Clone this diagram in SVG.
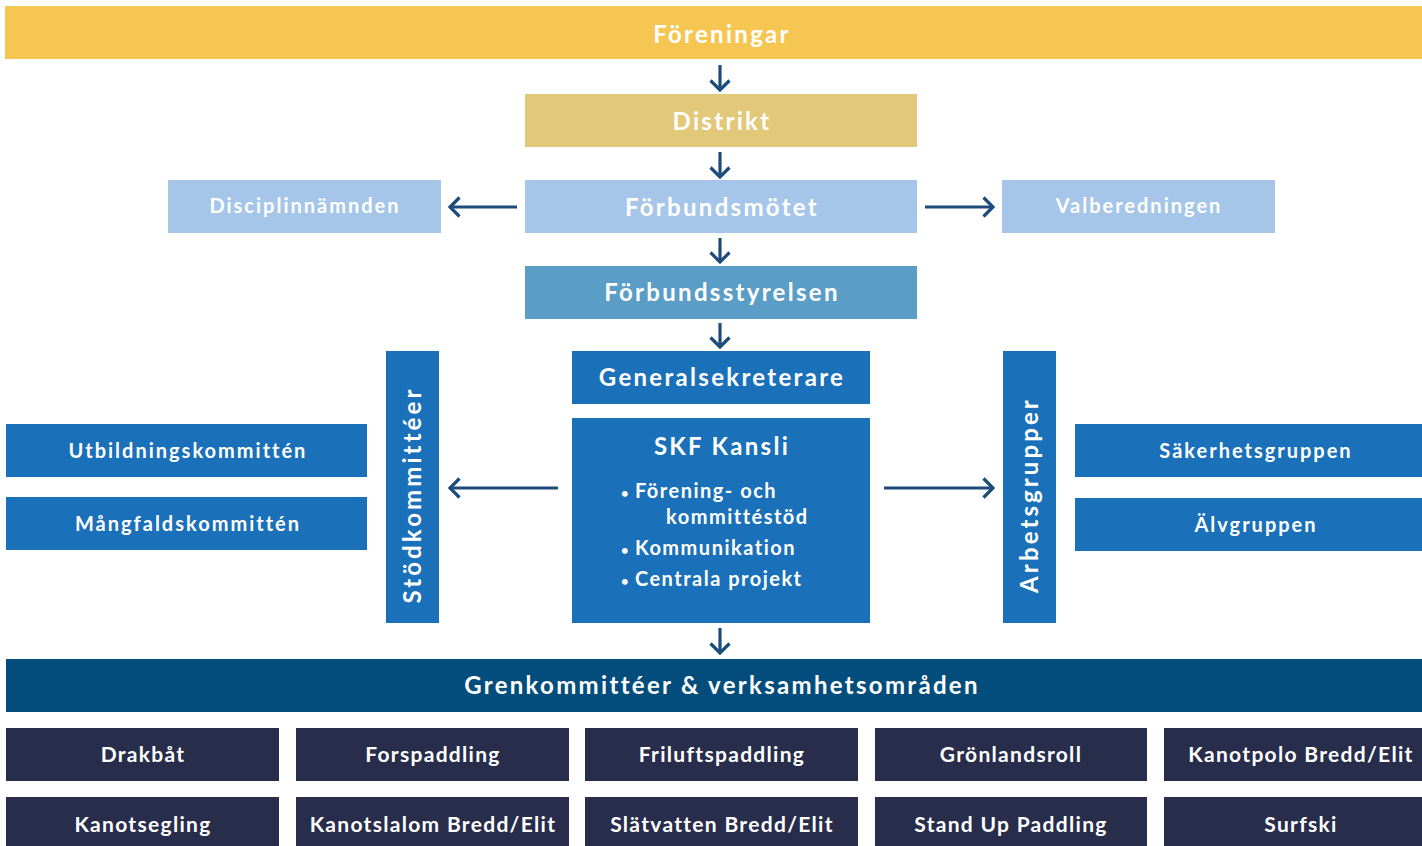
<svg xmlns="http://www.w3.org/2000/svg" width="1422" height="846" viewBox="0 0 1422 846">
<defs>
<marker id="ah" viewBox="0 0 13 22" refX="11" refY="11" markerWidth="13" markerHeight="22" markerUnits="userSpaceOnUse" orient="auto">
<path d="M1.5,1.5 L11,11 L1.5,20.5" fill="none" stroke="#1B4C7C" stroke-width="3.2"/>
</marker>
</defs>
<style>
text{font-family:Lato,"Open Sans","Liberation Sans",sans-serif;font-weight:bold;fill:#fff;text-anchor:middle;}
.t{font-size:24px;letter-spacing:2.3px}
.v{font-size:24px;letter-spacing:3.1px}
.s{font-size:20px;letter-spacing:2px}
.k{font-size:20px;letter-spacing:1.5px;text-anchor:start}
.dot{font-size:13px;letter-spacing:0}
.b{font-size:21px;letter-spacing:1.3px}
.c{stroke:#1B4C7C;stroke-width:3.2;fill:none;marker-end:url(#ah)}
.lb{fill:#A5C6E8}
.mb{fill:#1A71B9}
.dk{fill:#272D4B}
</style>
<rect width="1422" height="846" fill="#fff"/>

<g id="foreningar"><rect x="5" y="6" width="1417" height="53" fill="#F5C652"/><text class="t" x="722" y="43">Föreningar</text></g>
<g id="distrikt"><rect x="525" y="94" width="392" height="53" fill="#E2C97A"/><text class="t" x="722" y="130">Distrikt</text></g>
<g id="forbundsmotet"><rect class="lb" x="525" y="180" width="392" height="53"/><text class="t" x="722" y="216">Förbundsmötet</text></g>
<g id="disciplinnamnden"><rect class="lb" x="168" y="180" width="273" height="53"/><text class="s" x="305" y="213">Disciplinnämnden</text></g>
<g id="valberedningen"><rect class="lb" x="1002" y="180" width="273" height="53"/><text class="s" x="1139" y="213">Valberedningen</text></g>
<g id="forbundsstyrelsen"><rect x="525" y="266" width="392" height="53" fill="#5A9DC7"/><text class="t" x="722" y="301">Förbundsstyrelsen</text></g>
<g id="generalsekreterare"><rect class="mb" x="572" y="351" width="298" height="53"/><text class="t" x="722" y="386">Generalsekreterare</text></g>
<g id="kansli"><rect class="mb" x="572" y="418" width="298" height="205"/>
<text class="t" x="722" y="455">SKF Kansli</text>
<text class="k" x="621" y="498"><tspan class="dot">•</tspan> Förening- och</text>
<text class="k" x="666" y="524">kommittéstöd</text>
<text class="k" x="621" y="555"><tspan class="dot">•</tspan> Kommunikation</text>
<text class="k" x="621" y="586"><tspan class="dot">•</tspan> Centrala projekt</text>
</g>
<g id="stodkommitteer"><rect class="mb" x="386" y="351" width="53" height="272"/><text class="v" transform="translate(421,495) rotate(-90)">Stödkommittéer</text></g>
<g id="arbetsgrupper"><rect class="mb" x="1003" y="351" width="53" height="272"/><text class="v" transform="translate(1038,495) rotate(-90)">Arbetsgrupper</text></g>
<g id="utbildning"><rect class="mb" x="6" y="424" width="361" height="53"/><text class="s" x="188" y="458">Utbildningskommittén</text></g>
<g id="mangfald"><rect class="mb" x="6" y="497" width="361" height="53"/><text class="s" x="188" y="531">Mångfaldskommittén</text></g>
<g id="sakerhet"><rect class="mb" x="1075" y="424" width="347" height="53"/><text class="s" x="1256" y="458">Säkerhetsgruppen</text></g>
<g id="alvgruppen"><rect class="mb" x="1075" y="498" width="347" height="53"/><text class="s" x="1256" y="532">Älvgruppen</text></g>
<g id="grenkommitteer"><rect x="6" y="659" width="1416" height="53" fill="#034D7C"/><text class="t" x="722" y="694">Grenkommittéer &amp; verksamhetsområden</text></g>

<g id="drakbat"><rect class="dk" x="6" y="728" width="273" height="53"/><text class="b" x="143" y="762">Drakbåt</text></g>
<g id="forspaddling"><rect class="dk" x="296" y="728" width="273" height="53"/><text class="b" x="433" y="762">Forspaddling</text></g>
<g id="friluftspaddling"><rect class="dk" x="585" y="728" width="273" height="53"/><text class="b" x="722" y="762">Friluftspaddling</text></g>
<g id="gronlandsroll"><rect class="dk" x="875" y="728" width="272" height="53"/><text class="b" x="1011" y="762">Grönlandsroll</text></g>
<g id="kanotpolo"><rect class="dk" x="1164" y="728" width="258" height="53"/><text class="b" x="1301" y="762">Kanotpolo Bredd/Elit</text></g>
<g id="kanotsegling"><rect class="dk" x="6" y="797" width="273" height="53"/><text class="b" x="143" y="832">Kanotsegling</text></g>
<g id="kanotslalom"><rect class="dk" x="296" y="797" width="273" height="53"/><text class="b" x="433" y="832">Kanotslalom Bredd/Elit</text></g>
<g id="slatvatten"><rect class="dk" x="585" y="797" width="273" height="53"/><text class="b" x="722" y="832">Slätvatten Bredd/Elit</text></g>
<g id="standup"><rect class="dk" x="875" y="797" width="272" height="53"/><text class="b" x="1011" y="832">Stand Up Paddling</text></g>
<g id="surfski"><rect class="dk" x="1164" y="797" width="258" height="53"/><text class="b" x="1301" y="832">Surfski</text></g>

<g id="connectors">
<line class="c" x1="720" y1="65" x2="720" y2="90"/>
<line class="c" x1="720" y1="152" x2="720" y2="177"/>
<line class="c" x1="720" y1="238" x2="720" y2="262"/>
<line class="c" x1="720" y1="323" x2="720" y2="347"/>
<line class="c" x1="720" y1="628" x2="720" y2="653"/>
<line class="c" x1="517" y1="207" x2="450" y2="207"/>
<line class="c" x1="925" y1="207" x2="993" y2="207"/>
<line class="c" x1="558" y1="488" x2="450" y2="488"/>
<line class="c" x1="884" y1="488" x2="993" y2="488"/>
</g>
</svg>
